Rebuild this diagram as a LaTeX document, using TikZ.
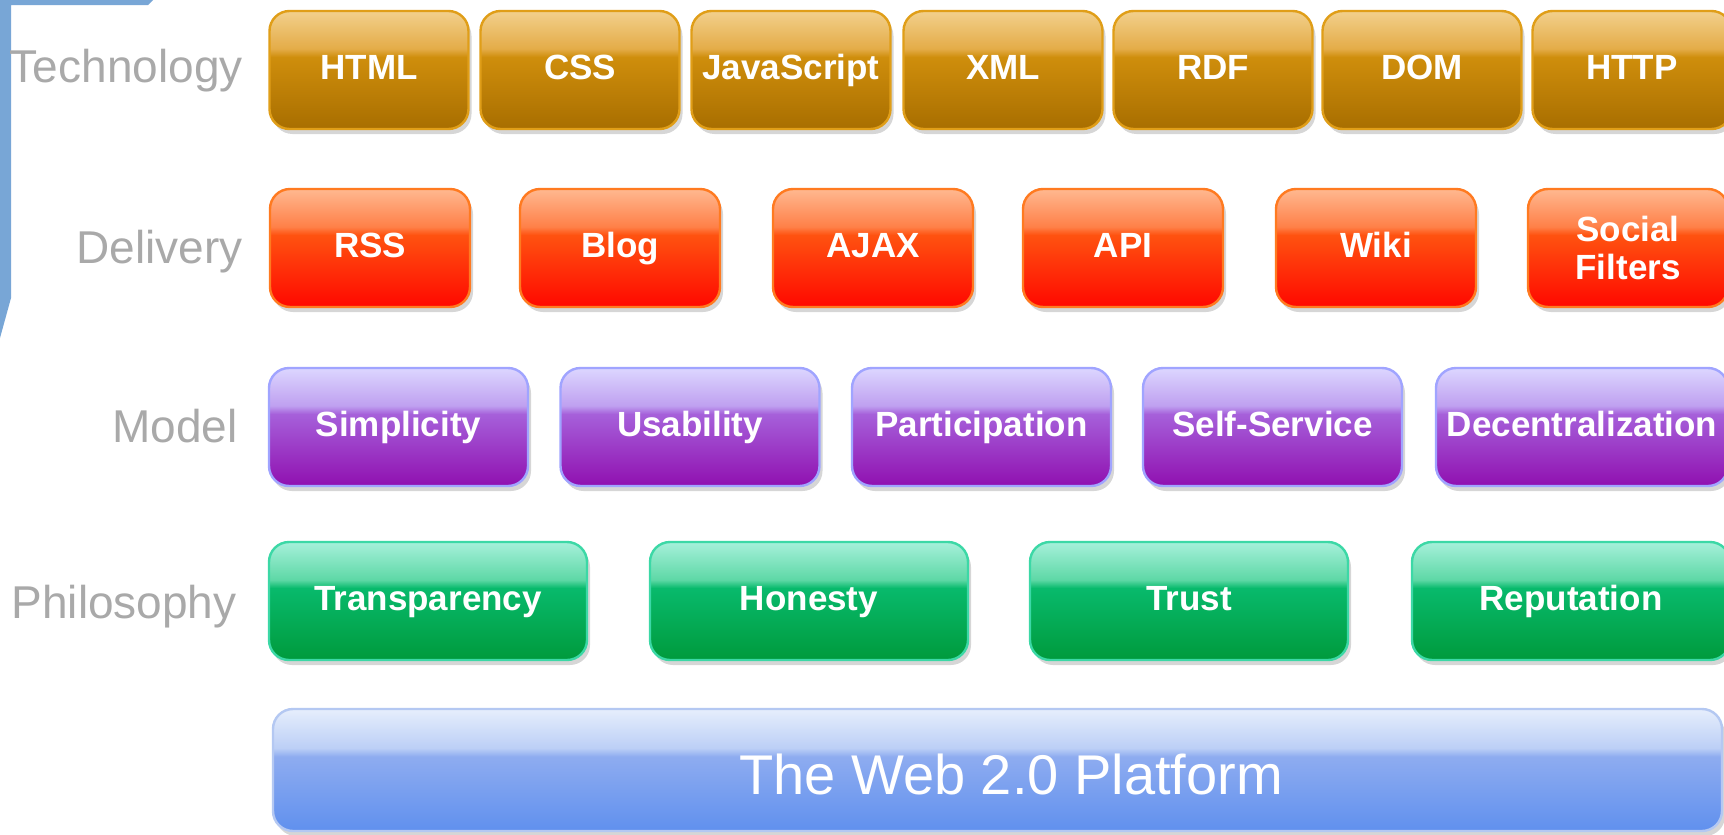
\documentclass[tikz,border=0pt]{standalone}
\usepackage{fontspec}
\setmainfont{Liberation Sans}
\usetikzlibrary{shadows}
% colours
\definecolor{frameblue}{HTML}{78A6D6}
\definecolor{lblgray}{HTML}{A9A9A9}
\definecolor{goldT}{HTML}{F2D08C}\definecolor{goldA}{HTML}{E4AC48}\definecolor{goldC}{HTML}{CF8E0C}\definecolor{goldB}{HTML}{A86E00}\definecolor{goldE}{HTML}{E09E18}
\definecolor{redT}{HTML}{FFB890}\definecolor{redA}{HTML}{FF8048}\definecolor{redC}{HTML}{FF5210}\definecolor{redB}{HTML}{FF0800}\definecolor{redE}{HTML}{FF7A20}
\definecolor{purT}{HTML}{DCD6FF}\definecolor{purA}{HTML}{BFA0F0}\definecolor{purC}{HTML}{A660DA}\definecolor{purB}{HTML}{9010B0}\definecolor{purE}{HTML}{A0A4FF}
\definecolor{grnT}{HTML}{A6F0DA}\definecolor{grnA}{HTML}{5ED8A6}\definecolor{grnC}{HTML}{08BA6C}\definecolor{grnB}{HTML}{009A3C}\definecolor{grnE}{HTML}{3CD8A6}
\definecolor{bluT}{HTML}{E6EEFC}\definecolor{bluA}{HTML}{BCCFF6}\definecolor{bluC}{HTML}{8EACF0}\definecolor{bluB}{HTML}{6090EE}\definecolor{bluE}{HTML}{B4C8F2}
\pgfdeclareverticalshading{goldsh}{100bp}{color(0bp)=(goldB); color(25bp)=(goldB); color(55.5bp)=(goldC); color(59bp)=(goldA); color(75bp)=(goldT); color(100bp)=(goldT)}
\pgfdeclareverticalshading{redsh}{100bp}{color(0bp)=(redB); color(25bp)=(redB); color(55.5bp)=(redC); color(59bp)=(redA); color(75bp)=(redT); color(100bp)=(redT)}
\pgfdeclareverticalshading{pursh}{100bp}{color(0bp)=(purB); color(25bp)=(purB); color(55.5bp)=(purC); color(59bp)=(purA); color(75bp)=(purT); color(100bp)=(purT)}
\pgfdeclareverticalshading{grnsh}{100bp}{color(0bp)=(grnB); color(25bp)=(grnB); color(55.5bp)=(grnC); color(59bp)=(grnA); color(75bp)=(grnT); color(100bp)=(grnT)}
\pgfdeclareverticalshading{blush}{100bp}{color(0bp)=(bluB); color(25bp)=(bluB); color(55.5bp)=(bluC); color(59bp)=(bluA); color(75bp)=(bluT); color(100bp)=(bluT)}
\newcommand{\boxfnt}{\fontsize{17.5pt}{19pt}\selectfont\bfseries}
\newcommand{\lblfnt}{\fontsize{23pt}{27pt}\selectfont}
\newcommand{\platfnt}{\fontsize{28pt}{32pt}\selectfont}
\tikzset{
  boxbase/.style={rounded corners=10pt, minimum height=59pt, inner sep=0pt, text=white, font=\boxfnt,
    line width=1.2pt, align=center,
    drop shadow={shadow xshift=1.5pt, shadow yshift=-2.5pt, opacity=0.16, fill=black}},
  caps/.style={text height=12.5pt, text depth=3.5pt},
  techbox/.style={boxbase, caps, shade, shading=goldsh, draw=goldE, minimum width=99.5pt},
  delbase/.style={boxbase, shade, shading=redsh, draw=redE, minimum width=100pt},
  delbox/.style={delbase, caps},
  modbox/.style={boxbase, caps, shade, shading=pursh, draw=purE, minimum width=129.5pt},
  phibox/.style={boxbase, caps, shade, shading=grnsh, draw=grnE, minimum width=159pt},
  platbox/.style={boxbase, shade, shading=blush, draw=bluE, minimum width=724.5pt, minimum height=61pt},
  rowlbl/.style={anchor=base east, inner sep=0pt, text=lblgray, font=\lblfnt},
  plattext/.style={inner sep=0pt, text=white, font=\platfnt, text height=20pt, text depth=0pt}
}
\begin{document}
\begin{tikzpicture}[x=0.5pt,y=-0.5pt]
\path[use as bounding box] (0,0) rectangle (1724,835);
\clip (0,0) rectangle (1724,835);
\fill[white] (0,0) rectangle (1724,835);
% blue frame fragment
\fill[frameblue] (0,0) -- (153,0) -- (148,5) -- (11,5) -- (11,298) -- (0,338) -- cycle;
% row labels
\node[rowlbl] (lblTech) at (243,82) {Technology};
\node[rowlbl] (lblDel) at (243,263) {Delivery};
\node[rowlbl] (lblMod) at (238,442) {Model};
\node[rowlbl] (lblPhi) at (237,618) {Philosophy};
% technology
\node[techbox] (html) at (369,70) {HTML};
\node[techbox] (css) at (580,70) {CSS};
\node[techbox] (js) at (791,70) {JavaScript};
\node[techbox] (xml) at (1003,70) {XML};
\node[techbox] (rdf) at (1213,70) {RDF};
\node[techbox] (dom) at (1422,70) {DOM};
\node[techbox] (http) at (1632,70) {HTTP};
% delivery
\node[delbox] (rss) at (370,248) {RSS};
\node[delbox] (blog) at (620,248) {Blog};
\node[delbox] (ajax) at (873,248) {AJAX};
\node[delbox] (api) at (1123,248) {API};
\node[delbox] (wiki) at (1376,248) {Wiki};
\node[delbase] (social) at (1628,248) {Social\\Filters};
% model
\node[modbox] (simp) at (398.5,427) {Simplicity};
\node[modbox] (usab) at (690,427) {Usability};
\node[modbox] (part) at (981.5,427) {Participation};
\node[modbox] (self) at (1272.5,427) {Self-Service};
\node[modbox, minimum width=146pt] (decen) at (1582,427) {Decentralization};
% philosophy
\node[phibox] (transp) at (428,601) {Transparency};
\node[phibox] (hon) at (809,601) {Honesty};
\node[phibox] (trust) at (1189,601) {Trust};
\node[phibox] (rep) at (1571,601) {Reputation};
% platform
\node[platbox] (platform) at (997.5,770) {};
\node[plattext] (platformtext) at (1011,774) {The Web 2.0 Platform};
\end{tikzpicture}
\end{document}
